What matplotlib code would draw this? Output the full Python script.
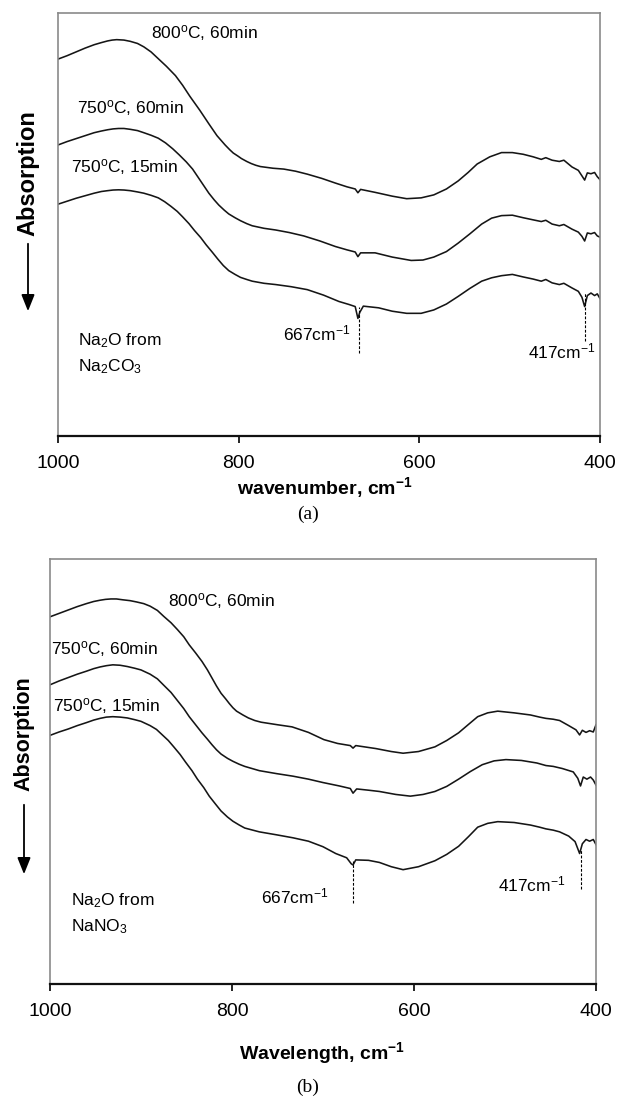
import numpy as np
import matplotlib
matplotlib.use("Agg")
import matplotlib.pyplot as plt
from matplotlib.patches import FancyArrowPatch

plt.rcParams['font.family'] = ['Liberation Sans', 'DejaVu Sans']
plt.rcParams['mathtext.fontset'] = 'custom'
plt.rcParams['mathtext.rm'] = 'Liberation Sans'
plt.rcParams['mathtext.it'] = 'Liberation Sans:italic'
plt.rcParams['mathtext.bf'] = 'Liberation Sans:bold'

# ---- panel (a): Na2O from Na2CO3 (arbitrary units) ----
wn_a1 = [1000, 990, 980, 970, 960, 952, 945, 940, 935, 927, 920, 912, 905, 897, 889, 880,
         870, 862, 854, 843, 833, 824, 815, 810, 806, 801, 797, 791, 786, 781, 776, 762,
         750, 737, 724, 708, 693, 680, 671, 668, 665, 649, 630, 614, 598, 584, 570, 557,
         546, 536, 522, 509, 497, 485, 474, 465, 460, 453, 445, 440, 431, 424, 420, 417,
         414, 410, 406, 403, 400]
y_a1 = [89.1, 89.9, 90.8, 91.7, 92.5, 93.0, 93.4, 93.6, 93.7, 93.6, 93.3, 92.8, 92.0, 90.8,
        89.2, 87.4, 85.2, 82.9, 80.3, 77.0, 73.8, 71.0, 68.8, 67.7, 66.9, 66.2, 65.6, 64.9,
        64.4, 64.0, 63.7, 63.3, 63.1, 62.6, 61.9, 60.9, 59.8, 58.9, 58.4, 57.5, 58.3, 57.6,
        56.7, 56.1, 56.3, 57.0, 58.4, 60.3, 62.3, 64.3, 66.0, 67.0, 67.0, 66.6, 66.0, 65.4,
        65.8, 65.2, 64.9, 65.2, 63.6, 62.8, 61.5, 60.5, 62.2, 62.0, 62.3, 61.3, 60.6]

wn_a2 = [1000, 990, 980, 970, 960, 952, 945, 939, 933, 927, 920, 912, 905, 897, 889, 881,
         873, 866, 858, 851, 845, 839, 833, 827, 822, 816, 811, 804, 798, 791, 785, 772,
         759, 744, 728, 710, 693, 680, 671, 668, 665, 649, 630, 609, 596, 584, 570, 557,
         544, 531, 520, 509, 497, 485, 474, 465, 460, 453, 445, 440, 431, 424, 420, 417,
         414, 410, 406, 403, 400]
y_a2 = [68.8, 69.6, 70.3, 71.0, 71.7, 72.1, 72.4, 72.6, 72.7, 72.7, 72.5, 72.2, 71.7, 71.1,
        70.4, 69.3, 67.9, 66.5, 64.8, 63.1, 61.2, 59.3, 57.4, 55.8, 54.6, 53.4, 52.5, 51.6,
        50.9, 50.2, 49.7, 49.1, 48.7, 48.1, 47.3, 46.1, 44.8, 44.0, 43.5, 42.4, 43.3, 43.3,
        42.3, 41.5, 41.6, 42.3, 43.6, 45.6, 47.8, 50.1, 51.5, 52.1, 52.2, 51.6, 51.1, 50.7,
        51.0, 50.1, 49.7, 50.0, 48.9, 48.2, 47.2, 46.1, 48.0, 47.8, 48.1, 47.3, 47.0]

wn_a3 = [1000, 990, 980, 970, 960, 952, 945, 939, 933, 927, 920, 912, 905, 897, 889, 882,
         875, 868, 862, 855, 849, 842, 836, 829, 823, 817, 811, 804, 798, 791, 785, 772,
         759, 742, 724, 706, 689, 678, 671, 668, 666, 662, 645, 630, 614, 598, 584, 570,
         557, 544, 531, 520, 509, 497, 485, 474, 465, 460, 453, 445, 440, 431, 424, 420,
         417, 414, 410, 406, 403, 400]
y_a3 = [54.8, 55.5, 56.2, 56.8, 57.4, 57.8, 58.0, 58.15, 58.2, 58.15, 58.0, 57.7, 57.4, 56.9,
        56.3, 55.4, 54.3, 53.1, 51.8, 50.2, 48.6, 46.9, 45.2, 43.4, 41.8, 40.3, 39.1, 38.2,
        37.5, 37.0, 36.6, 36.1, 35.8, 35.3, 34.6, 33.3, 31.8, 31.1, 30.6, 27.8, 29.2, 30.7,
        30.3, 29.5, 29.0, 29.0, 29.8, 31.2, 33.0, 34.9, 36.6, 37.4, 37.9, 38.2, 37.6, 37.1,
        36.6, 37.0, 36.2, 35.8, 36.1, 35.0, 34.2, 32.8, 30.6, 33.2, 33.8, 33.2, 33.6, 32.5]

# ---- panel (b): Na2O from NaNO3 ----
wn_b1 = [1000, 990, 980, 970, 960, 952, 945, 939, 933, 927, 920, 912, 905, 897, 890, 882,
         875, 867, 860, 853, 847, 840, 833, 827, 822, 817, 812, 807, 803, 799, 795, 788,
         782, 775, 768, 750, 734, 716, 699, 684, 670, 667, 664, 642, 625, 612, 595, 577,
         564, 551, 540, 530, 519, 508, 490, 472, 462, 455, 447, 440, 430, 422, 418, 415,
         411, 407, 403, 400]
y_b1 = [86.4, 87.2, 88.0, 88.8, 89.5, 90.0, 90.3, 90.5, 90.6, 90.6, 90.4, 90.2, 89.9, 89.5,
        88.9, 87.9, 86.5, 85.0, 83.4, 81.7, 79.8, 77.9, 75.9, 73.9, 72.0, 70.1, 68.4, 67.1,
        66.0, 65.0, 64.2, 63.3, 62.6, 62.0, 61.6, 61.0, 60.5, 59.2, 57.5, 56.6, 56.1, 55.5,
        56.1, 55.4, 54.7, 54.3, 54.7, 55.8, 57.3, 59.1, 61.1, 62.9, 63.8, 64.2, 63.8, 63.3,
        62.8, 62.5, 62.3, 62.0, 60.8, 59.8, 58.6, 59.7, 59.2, 59.6, 59.3, 61.0]

wn_b2 = [1000, 990, 980, 970, 960, 952, 945, 938, 931, 923, 915, 907, 900, 890, 882, 875,
         867, 860, 853, 847, 840, 833, 827, 822, 817, 812, 805, 799, 792, 786, 770, 751,
         733, 716, 700, 682, 670, 667, 663, 650, 638, 620, 604, 590, 577, 564, 551, 538,
         525, 512, 499, 482, 465, 455, 447, 437, 425, 420, 417, 414, 410, 406, 403, 400]
y_b2 = [70.4, 71.3, 72.1, 72.9, 73.6, 74.2, 74.6, 74.9, 75.1, 75.0, 74.7, 74.3, 73.9, 72.9,
        71.8, 70.3, 68.6, 66.7, 64.8, 62.9, 61.0, 59.1, 57.6, 56.3, 55.1, 54.1, 53.1, 52.4,
        51.7, 51.2, 50.2, 49.5, 48.9, 48.2, 47.4, 46.6, 46.0, 44.9, 45.9, 45.6, 45.3, 44.6,
        44.2, 44.6, 45.3, 46.5, 48.2, 50.0, 51.6, 52.5, 52.8, 52.6, 52.0, 51.4, 51.2, 50.7,
        49.9, 48.4, 46.6, 48.7, 48.2, 48.7, 48.0, 46.8]

wn_b3 = [1000, 990, 980, 970, 960, 952, 945, 938, 931, 923, 915, 907, 900, 890, 883, 877,
         870, 864, 857, 851, 844, 838, 831, 825, 818, 812, 805, 799, 792, 786, 770, 751,
         733, 716, 700, 686, 674, 669, 667, 664, 650, 638, 625, 612, 595, 577, 564, 551,
         540, 530, 519, 508, 490, 472, 462, 455, 447, 440, 430, 423, 418, 415, 411, 407,
         403, 400]
y_b3 = [58.5, 59.3, 60.0, 60.8, 61.5, 62.1, 62.5, 62.8, 62.9, 62.8, 62.6, 62.2, 61.8, 60.8,
        59.9, 58.7, 57.3, 55.8, 54.0, 52.2, 50.2, 48.2, 46.2, 44.2, 42.3, 40.7, 39.3, 38.3,
        37.4, 36.7, 35.8, 35.1, 34.4, 33.6, 32.3, 30.7, 29.7, 28.3, 28.0, 29.2, 29.1, 28.6,
        27.6, 26.9, 27.6, 29.0, 30.5, 32.4, 34.7, 36.9, 37.8, 38.2, 38.0, 37.4, 36.9, 36.5,
        36.2, 35.8, 34.8, 33.5, 30.7, 33.0, 34.0, 33.6, 34.0, 32.8]

series_labels = ['800$^{\\mathrm{o}}$C, 60min', '750$^{\\mathrm{o}}$C, 60min',
                 '750$^{\\mathrm{o}}$C, 15min']
peak_labels = ['667cm$^{\\mathrm{-1}}$', '417cm$^{\\mathrm{-1}}$']
peak_wn = [667, 417]

fig = plt.figure(figsize=(6.18, 10.97), dpi=100)
W, H = 618.0, 1097.0


def make_axes(l, r, t, b):
    # pixel box -> figure fraction
    return fig.add_axes([l / W, 1 - b / H, (r - l) / W, (b - t) / H])


def style(ax):
    ax.set_xlim(1000, 400)
    ax.set_ylim(0, 100)
    ax.set_xticks([1000, 800, 600, 400])
    ax.set_yticks([])
    ax.tick_params(axis='x', direction='out', length=5, width=1.2, pad=9, labelsize=14)
    for s in ['left', 'top', 'right']:
        ax.spines[s].set_color('#8a8a8a')
        ax.spines[s].set_linewidth(1.2)
    ax.spines['bottom'].set_color('#111111')
    ax.spines['bottom'].set_linewidth(1.6)


def ylabel_arrow(x, ytxt, ya0, ya1, size):
    fig.text(x / W, 1 - ytxt / H, 'Absorption', rotation=90, ha='center', va='center',
             fontsize=size, fontweight='bold')
    fig.add_artist(FancyArrowPatch(
        (x / W, 1 - ya0 / H), (x / W, 1 - ya1 / H), transform=fig.transFigure,
        arrowstyle='-|>,head_length=0.5,head_width=0.2', mutation_scale=20,
        color='black', lw=1.3))


lc = '#151515'
dash = (0, (2.5, 1.5))

# panel (a)
ax1 = make_axes(58, 600, 13, 436)
style(ax1)
for wn, y in [(wn_a1, y_a1), (wn_a2, y_a2), (wn_a3, y_a3)]:
    ax1.plot(wn, y, color=lc, lw=1.15)
ax1.text(897, 95.3, series_labels[0], fontsize=12.5, va='center')
ax1.text(979, 77.5, series_labels[1], fontsize=12.5, va='center')
ax1.text(985.6, 63.6, series_labels[2], fontsize=12.5, va='center')
ax1.plot([peak_wn[0]] * 2, [19.6, 30.5], color='black', lw=0.8, ls=dash)
ax1.plot([peak_wn[1]] * 2, [22.5, 33.8], color='black', lw=0.8, ls=dash)
ax1.text(751, 24.3, peak_labels[0], fontsize=12.5, va='center')
ax1.text(479.7, 19.9, peak_labels[1], fontsize=12.5, va='center')
ax1.text(977.9, 22.5, 'Na$_{\\mathrm{2}}$O from', fontsize=12.5, va='center')
ax1.text(977.9, 16.3, 'Na$_{\\mathrm{2}}$CO$_{\\mathrm{3}}$', fontsize=12.5, va='center')
fig.text(325 / W, 1 - 488 / H, 'wavenumber, cm$^{\\mathbf{-1}}$', ha='center', va='center',
         fontsize=14, fontweight='bold')
fig.text(308 / W, 1 - 514 / H, '(a)', ha='center', va='center', fontsize=14,
         family='Liberation Serif')
ylabel_arrow(28, 173, 241, 314, 17)

# panel (b)
ax2 = make_axes(50, 596, 559, 984)
style(ax2)
for wn, y in [(wn_b1, y_b1), (wn_b2, y_b2), (wn_b3, y_b3)]:
    ax2.plot(wn, y, color=lc, lw=1.15)
ax2.text(870, 90.1, series_labels[0], fontsize=12.5, va='center')
ax2.text(999, 78.8, series_labels[1], fontsize=12.5, va='center')
ax2.text(996.7, 65.4, series_labels[2], fontsize=12.5, va='center')
ax2.plot([peak_wn[0]] * 2, [19.1, 28.9], color='black', lw=0.8, ls=dash)
ax2.plot([peak_wn[1]] * 2, [22.4, 31.5], color='black', lw=0.8, ls=dash)
ax2.text(768, 20.7, peak_labels[0], fontsize=12.5, va='center')
ax2.text(507.7, 23.5, peak_labels[1], fontsize=12.5, va='center')
ax2.text(977, 19.5, 'Na$_{\\mathrm{2}}$O from', fontsize=12.5, va='center')
ax2.text(977, 13.4, 'NaNO$_{\\mathrm{3}}$', fontsize=12.5, va='center')
fig.text(322 / W, 1 - 1053 / H, 'Wavelength, cm$^{\\mathbf{-1}}$', ha='center', va='center',
         fontsize=14, fontweight='bold')
fig.text(308 / W, 1 - 1087 / H, '(b)', ha='center', va='center', fontsize=14,
         family='Liberation Serif')
ylabel_arrow(24, 734, 802, 877, 15.5)

fig.savefig('out.png', dpi=100)
